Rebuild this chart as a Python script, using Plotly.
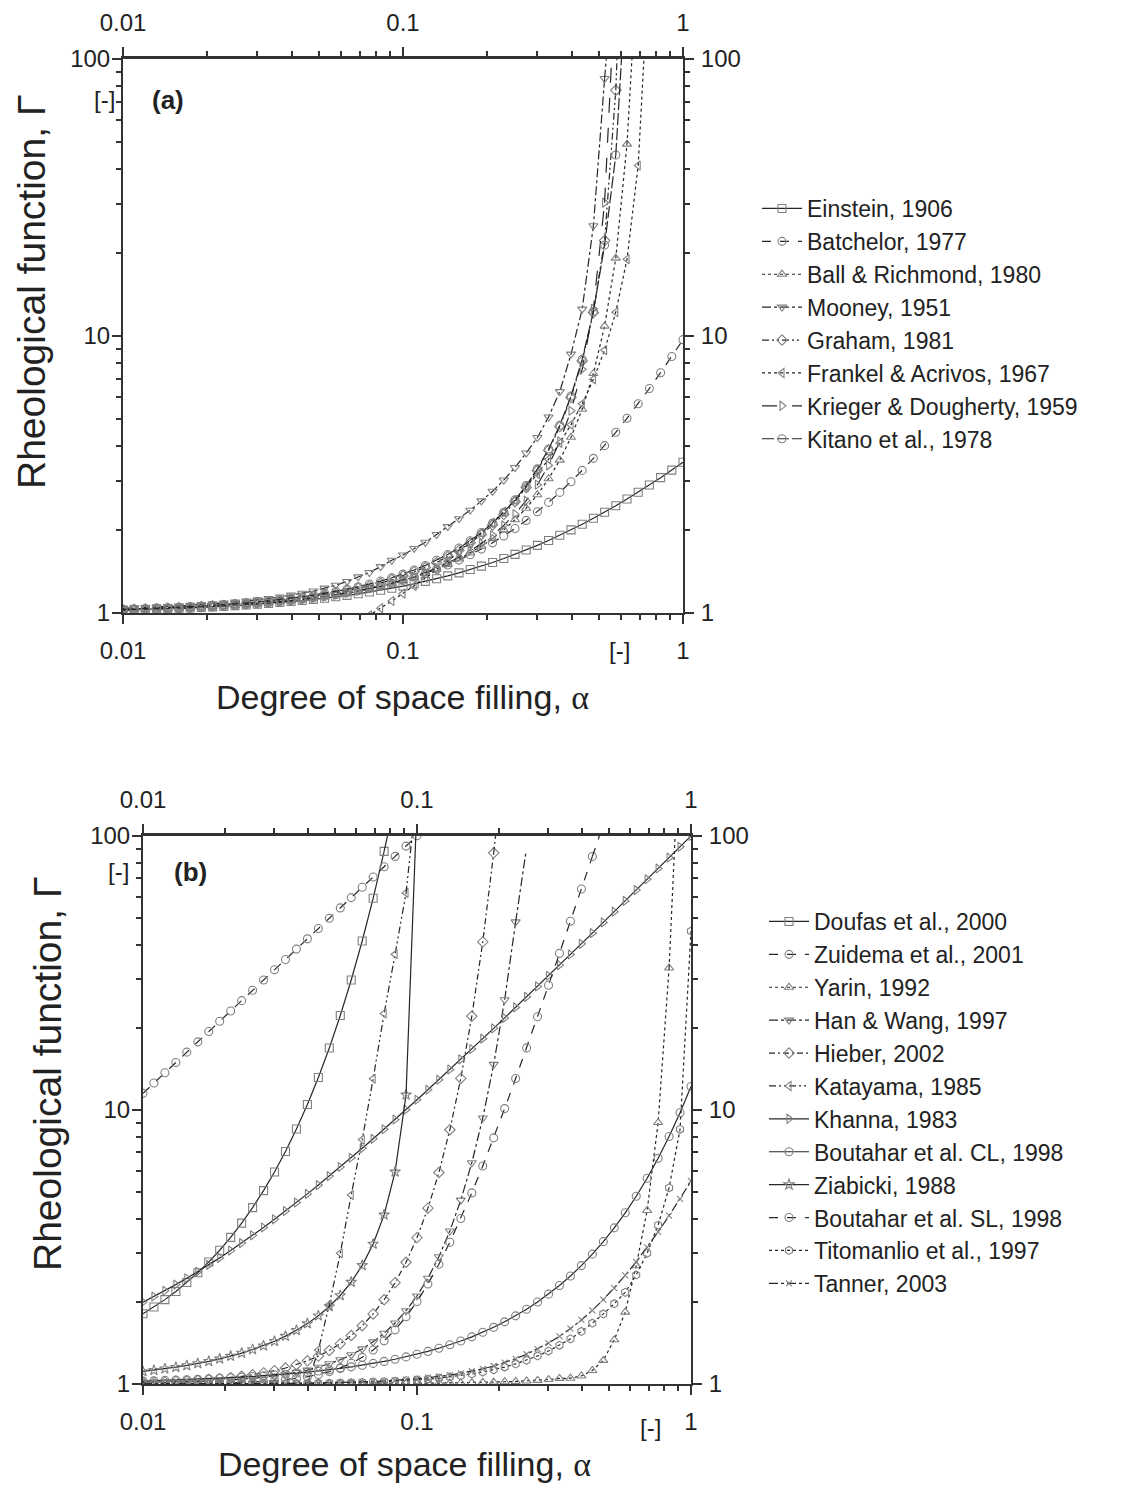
import plotly.graph_objects as go

# page is drawn with the browser's default 8px body margin; size the figure to fit the window
OFF = 8
W, H = 1124 - OFF, 1486 - OFF

# ---------------- data ----------------
alpha = [0.0100, 0.01096, 0.01202, 0.01318, 0.01445, 0.01585, 0.01738, 0.01905, 0.02089, 0.02291,
         0.02512, 0.02754, 0.03020, 0.03311, 0.03631, 0.03981, 0.04365, 0.04786, 0.05248, 0.05754,
         0.06310, 0.06918, 0.07586, 0.08318, 0.09120, 0.1000, 0.1096, 0.1202, 0.1318, 0.1445,
         0.1585, 0.1738, 0.1905, 0.2089, 0.2291, 0.2512, 0.2754, 0.3020, 0.3311, 0.3631,
         0.3981, 0.4365, 0.4786, 0.5248, 0.5754, 0.6310, 0.6918, 0.7586, 0.8318, 0.9120, 1.0]

x_ticks = [0.01, 0.1, 1]
x_ticktext = ["0.01", "0.1", "1"]
y_ticks = [1, 10, 100]
y_ticktext = ["1", "10", "100"]

# panel (a)
einstein = [1.025, 1.027, 1.030, 1.033, 1.036, 1.040, 1.043, 1.048, 1.052, 1.057, 1.063, 1.069, 1.076, 1.083,
            1.091, 1.100, 1.109, 1.120, 1.131, 1.144, 1.158, 1.173, 1.190, 1.208, 1.228, 1.250, 1.274, 1.301,
            1.330, 1.361, 1.396, 1.435, 1.476, 1.522, 1.573, 1.628, 1.689, 1.755, 1.828, 1.908, 1.995, 2.091,
            2.197, 2.312, 2.439, 2.578, 2.730, 2.897, 3.080, 3.280, 3.500]
batchelor = [1.026, 1.028, 1.031, 1.034, 1.037, 1.041, 1.045, 1.050, 1.055, 1.061, 1.067, 1.074, 1.081, 1.090,
             1.099, 1.109, 1.121, 1.134, 1.148, 1.164, 1.182, 1.203, 1.225, 1.251, 1.280, 1.312, 1.348, 1.390,
             1.437, 1.491, 1.552, 1.622, 1.701, 1.792, 1.898, 2.019, 2.159, 2.321, 2.508, 2.725, 2.978, 3.272,
             3.617, 4.020, 4.492, 5.047, 5.697, 6.465, 7.370, 8.437, 9.700]
ball_richmond = [1.026, 1.028, 1.031, 1.034, 1.037, 1.041, 1.045, 1.049, 1.054, 1.060, 1.066, 1.073, 1.080,
                 1.088, 1.098, 1.108, 1.119, 1.132, 1.146, 1.161, 1.179, 1.200, 1.222, 1.248, 1.276, 1.309,
                 1.347, 1.390, 1.440, 1.498, 1.566, 1.646, 1.741, 1.856, 1.997, 2.171, 2.390, 2.673, 3.052,
                 3.565, 4.31, 5.44, 7.32, 10.86, 19.1, 49.3]
mooney = [1.040, 1.043, 1.046, 1.050, 1.055, 1.060, 1.066, 1.072, 1.079, 1.087, 1.095, 1.105, 1.115, 1.127,
          1.142, 1.160, 1.178, 1.200, 1.230, 1.260, 1.300, 1.350, 1.400, 1.470, 1.550, 1.620, 1.710, 1.800,
          1.920, 2.050, 2.190, 2.350, 2.540, 2.750, 3.020, 3.350, 3.780, 4.300, 5.100, 6.300, 8.60, 12.5,
          25.0, 85.0]
graham = [1.027, 1.029, 1.033, 1.036, 1.040, 1.044, 1.048, 1.054, 1.059, 1.065, 1.072, 1.080, 1.088, 1.098,
          1.108, 1.119, 1.130, 1.147, 1.163, 1.182, 1.203, 1.230, 1.250, 1.280, 1.320, 1.359, 1.410, 1.460,
          1.520, 1.600, 1.685, 1.790, 1.920, 2.080, 2.270, 2.520, 2.840, 3.270, 3.870, 4.710, 6.00, 8.13,
          12.15, 22.1, 77.1]
frankel_acrivos = [None] * 20 + [0.878, 0.927, 0.981, 1.041, 1.105, 1.175, 1.252, 1.338, 1.433, 1.539, 1.657,
                                 1.790, 1.943, 2.116, 2.322, 2.557, 2.839, 3.178, 3.591, 4.111, 4.785, 5.693,
                                 6.973, 8.894, 12.18, 18.92, 41.25]
krieger_dougherty = [1.026, 1.028, 1.031, 1.034, 1.037, 1.041, 1.045, 1.050, 1.055, 1.060, 1.066, 1.073, 1.081,
                     1.089, 1.098, 1.108, 1.120, 1.133, 1.147, 1.163, 1.182, 1.202, 1.225, 1.252, 1.282, 1.316,
                     1.355, 1.400, 1.453, 1.515, 1.589, 1.676, 1.781, 1.911, 2.072, 2.277, 2.544, 2.905, 3.410,
                     4.163, 5.373, 7.578, 12.54, 30.3]
kitano = [1.031, 1.034, 1.037, 1.041, 1.045, 1.049, 1.054, 1.059, 1.065, 1.072, 1.080, 1.088, 1.097, 1.107,
          1.118, 1.130, 1.144, 1.160, 1.178, 1.197, 1.219, 1.244, 1.272, 1.304, 1.340, 1.382, 1.430, 1.485,
          1.550, 1.626, 1.716, 1.823, 1.953, 2.111, 2.311, 2.560, 2.884, 3.315, 3.908, 4.762, 6.072, 8.235,
          12.25, 21.29, 45.0]

# panel (b)
doufas = [1.804, 1.909, 2.032, 2.176, 2.346, 2.548, 2.788, 3.077, 3.430, 3.864, 4.402, 5.078, 5.941, 7.053,
          8.519, 10.47, 13.14, 16.84, 22.12, 29.81, 41.39, 59.24, 87.85]
zuidema = [11.50, 12.54, 13.68, 14.91, 16.26, 17.73, 19.33, 21.08, 22.99, 25.07, 27.34, 29.81, 32.51, 35.44,
           38.65, 42.14, 45.95, 50.11, 54.64, 59.58, 64.97, 70.84, 77.25, 84.23, 91.85, 100.2]
yarin = [1.002, 1.002, 1.002, 1.002, 1.002, 1.002, 1.002, 1.002, 1.002, 1.002, 1.002, 1.002, 1.002, 1.002,
         1.002, 1.002, 1.002, 1.002, 1.002, 1.002, 1.003, 1.003, 1.004, 1.004, 1.005, 1.006, 1.007, 1.008,
         1.009, 1.010, 1.012, 1.014, 1.016, 1.019, 1.022, 1.026, 1.031, 1.038, 1.048, 1.050, 1.070, 1.12,
         1.22, 1.45, 1.83, 2.7, 4.3, 9.0, 33.0]
han_wang = [1.007, 1.009, 1.011, 1.013, 1.016, 1.019, 1.023, 1.027, 1.033, 1.040, 1.048, 1.058, 1.070, 1.085,
            1.103, 1.124, 1.151, 1.185, 1.226, 1.278, 1.343, 1.425, 1.531, 1.669, 1.851, 2.096, 2.432, 2.913,
            3.617, 4.689, 6.418, 9.349, 14.67, 25.26, 48.6]
hieber = [1.012, 1.015, 1.018, 1.022, 1.026, 1.031, 1.038, 1.046, 1.055, 1.067, 1.081, 1.098, 1.119, 1.144,
          1.176, 1.215, 1.264, 1.325, 1.403, 1.503, 1.632, 1.802, 2.030, 2.342, 2.782, 3.421, 4.382, 5.913,
          8.471, 13.04, 21.98, 41.07, 86.8]
katayama = [None] * 15 + [1.0, 1.33, 1.95, 3.0, 4.9, 7.8, 13.0, 22.5, 37.0, 62.0]
khanna = [1.990, 2.085, 2.190, 2.305, 2.431, 2.569, 2.721, 2.886, 3.068, 3.268, 3.487, 3.726, 3.990, 4.278,
          4.595, 4.941, 5.321, 5.738, 6.196, 6.696, 7.247, 7.849, 8.510, 9.235, 10.03, 10.90, 11.85, 12.90,
          14.05, 15.31, 16.69, 18.21, 19.86, 21.68, 23.68, 25.87, 28.26, 30.90, 33.78, 36.95, 40.41, 44.21,
          48.38, 52.96, 57.96, 63.47, 69.49, 76.10, 83.35, 91.29, 100.0]
boutahar_cl = [1.025, 1.028, 1.031, 1.034, 1.037, 1.040, 1.044, 1.049, 1.054, 1.059, 1.065, 1.071, 1.078,
               1.086, 1.095, 1.105, 1.115, 1.127, 1.140, 1.155, 1.171, 1.189, 1.209, 1.231, 1.256, 1.284,
               1.315, 1.351, 1.390, 1.435, 1.486, 1.544, 1.610, 1.686, 1.773, 1.874, 1.991, 2.128, 2.288,
               2.479, 2.705, 2.978, 3.308, 3.714, 4.215, 4.843, 5.638, 6.662, 8.000, 9.777, 12.18]
ziabicki = [1.111, 1.123, 1.137, 1.152, 1.169, 1.188, 1.210, 1.235, 1.264, 1.297, 1.336, 1.380, 1.433, 1.495,
            1.570, 1.661, 1.775, 1.918, 2.104, 2.355, 2.710, 3.245, 4.143, 5.945, 11.36]
boutahar_sl = [1.001, 1.001, 1.002, 1.002, 1.003, 1.004, 1.005, 1.007, 1.009, 1.012, 1.016, 1.021, 1.028,
               1.036, 1.048, 1.063, 1.083, 1.110, 1.145, 1.191, 1.251, 1.331, 1.437, 1.576, 1.759, 2.000,
               2.317, 2.737, 3.290, 4.017, 4.982, 6.250, 7.913, 10.12, 13.03, 16.85, 21.89, 28.54, 37.30,
               48.87, 64.09, 84.17]
titomanlio = [1.000, 1.000, 1.001, 1.001, 1.001, 1.001, 1.001, 1.001, 1.002, 1.002, 1.002, 1.003, 1.003,
              1.004, 1.005, 1.006, 1.007, 1.008, 1.010, 1.012, 1.014, 1.017, 1.020, 1.024, 1.029, 1.035,
              1.042, 1.051, 1.061, 1.073, 1.088, 1.106, 1.127, 1.153, 1.184, 1.221, 1.266, 1.319, 1.384,
              1.461, 1.555, 1.667, 1.802, 1.964, 2.16, 2.5, 3.0, 3.8, 5.2, 8.5, 45.0]
tanner = [1.0005, 1.0005, 1.0007, 1.0008, 1.0009, 1.0011, 1.0014, 1.0016, 1.002, 1.0024, 1.0028, 1.0034,
          1.0041, 1.0049, 1.0059, 1.0071, 1.0086, 1.0103, 1.0124, 1.0149, 1.0179, 1.0215, 1.0259, 1.0311,
          1.0374, 1.045, 1.0541, 1.065, 1.0782, 1.094, 1.1131, 1.1359, 1.1633, 1.1964, 1.2362, 1.284,
          1.3413, 1.4104, 1.4933, 1.5933, 1.7132, 1.8574, 2.0308, 2.2394, 2.4899, 2.7917, 3.1537, 3.5896,
          4.1136, 4.7428, 5.5]

# where steep curves leave the frame / end (alpha, gamma)
curve_end = {
    "Ball & Richmond, 1980": (0.657, 100), "Mooney, 1951": (0.532, 100), "Graham, 1981": (0.581, 100),
    "Frankel & Acrivos, 1967": (0.725, 100), "Krieger & Dougherty, 1959": (0.556, 100),
    "Kitano et al., 1978": (0.603, 100),
    "Doufas et al., 2000": (0.078, 100), "Yarin, 1992": (0.875, 100), "Han & Wang, 1997": (0.25, 88),
    "Hieber, 2002": (0.1935, 100), "Katayama, 1985": (0.096, 100), "Ziabicki, 1988": (0.099, 100),
    "Boutahar et al. SL, 1998": (0.463, 100),
}

series_a = [("Einstein, 1906", einstein), ("Batchelor, 1977", batchelor),
            ("Ball & Richmond, 1980", ball_richmond), ("Mooney, 1951", mooney), ("Graham, 1981", graham),
            ("Frankel & Acrivos, 1967", frankel_acrivos), ("Krieger & Dougherty, 1959", krieger_dougherty),
            ("Kitano et al., 1978", kitano)]
series_b = [("Doufas et al., 2000", doufas), ("Zuidema et al., 2001", zuidema), ("Yarin, 1992", yarin),
            ("Han & Wang, 1997", han_wang), ("Hieber, 2002", hieber), ("Katayama, 1985", katayama),
            ("Khanna, 1983", khanna), ("Boutahar et al. CL, 1998", boutahar_cl), ("Ziabicki, 1988", ziabicki),
            ("Boutahar et al. SL, 1998", boutahar_sl), ("Titomanlio et al., 1997", titomanlio),
            ("Tanner, 2003", tanner)]

# ---------------- styles ----------------
DDOT = "7px,3px,2px,3px,2px,3px"
style_a = [("solid", "square-open"), ("dash", "circle-open"), ("dot", "triangle-up-open"),
           ("dashdot", "triangle-down-open"), (DDOT, "diamond-open"), ("3px,3px", "triangle-left-open"),
           ("longdash", "triangle-right-open"), ("12px,3px", "circle-open")]
style_b = [("solid", "square-open"), ("dash", "circle-open"), ("dot", "triangle-up-open"),
           ("dashdot", "triangle-down-open"), ("6px,3px,2px,3px", "diamond-open"), (DDOT, "triangle-left-open"),
           ("solid", "triangle-right-open"), ("solid", "circle-open"), ("solid", "star-open"),
           ("dash", "circle-open"), ("dot", "hexagon-open"), ("dashdot", "x-thin-open")]

LINE_C = "#262626"
MARK_C = "#808080"
AX_C = "#333333"
FONT = "Liberation Sans, Arial, sans-serif"
MS = 8

fig = go.Figure()


def add_series(name, ys, style, xa, ya, leg):
    xs = [a for a, v in zip(alpha, ys)]
    vs = list(ys)
    dash, sym = style
    fig.add_trace(go.Scatter(
        x=xs, y=vs, mode="lines+markers", name=name, legend=leg, xaxis=xa, yaxis=ya,
        line=dict(color=LINE_C, width=1.2, dash=dash),
        marker=dict(symbol=sym, size=MS if "x-thin" not in sym else 6, color=MARK_C,
                    line=dict(color=MARK_C, width=1.1)),
        hoverinfo="skip"))
    if name in curve_end:
        last_i = max(i for i, v in enumerate(vs) if v is not None)
        ex, ey = curve_end[name]
        fig.add_trace(go.Scatter(
            x=[xs[last_i], ex], y=[vs[last_i], ey], mode="lines", showlegend=False,
            xaxis=xa, yaxis=ya, line=dict(color=LINE_C, width=1.2, dash=dash), hoverinfo="skip"))


for (nm, ys), st in zip(series_a, style_a):
    add_series(nm, ys, st, "x", "y", "legend")
for (nm, ys), st in zip(series_b, style_b):
    add_series(nm, ys, st, "x2", "y2", "legend2")

# invisible traces to activate mirrored labelled axes
fig.add_trace(go.Scatter(x=[0.1], y=[10], xaxis="x3", yaxis="y3", mode="markers",
                         marker=dict(opacity=0), showlegend=False, hoverinfo="skip"))
fig.add_trace(go.Scatter(x=[0.1], y=[10], xaxis="x4", yaxis="y4", mode="markers",
                         marker=dict(opacity=0), showlegend=False, hoverinfo="skip"))


def px(x):
    """screen x (px) -> paper fraction"""
    return (x - OFF) / W


def py(y):
    """screen y (px) -> paper fraction"""
    return 1 - (y - OFF) / H


minor = dict(ticks="outside", ticklen=5, tickwidth=1.5, tickcolor=AX_C, dtick="D1", showgrid=False)
base = dict(type="log", tickmode="array", showline=True, linecolor=AX_C, linewidth=2, ticks="outside",
            ticklen=9, tickwidth=2, tickcolor=AX_C, showgrid=False, zeroline=False, minor=minor,
            automargin=False, tickfont=dict(size=24, family=FONT, color="#222"))
xcommon = dict(base, range=[-2, 0], tickvals=x_ticks, ticktext=x_ticktext, ticklabelstandoff=6)
yleft = dict(base, range=[0, 2], tickvals=y_ticks, ticktext=y_ticktext, ticklabelstandoff=-3)
yright = dict(base, range=[0, 2], tickvals=y_ticks, ticktext=y_ticktext, ticklabelstandoff=2)

dom_xa = [px(123), px(683)]
dom_ya = [py(613), py(59)]
dom_xb = [px(143), px(691)]
dom_yb = [py(1384), py(836)]

fig.update_layout(
    width=W, height=H, margin=dict(l=0, r=0, t=0, b=0, autoexpand=False),
    paper_bgcolor="white", plot_bgcolor="white",
    font=dict(family=FONT, size=24, color="#222"),
    xaxis=dict(xcommon, domain=dom_xa, anchor="y", side="bottom"),
    yaxis=dict(yleft, domain=dom_ya, anchor="x", side="left"),
    xaxis3=dict(xcommon, overlaying="x", anchor="y", side="top", linewidth=3),
    yaxis3=dict(yright, overlaying="y", anchor="x", side="right"),
    xaxis2=dict(xcommon, domain=dom_xb, anchor="y2", side="bottom"),
    yaxis2=dict(yleft, domain=dom_yb, anchor="x2", side="left"),
    xaxis4=dict(xcommon, overlaying="x2", anchor="y2", side="top", linewidth=3),
    yaxis4=dict(yright, overlaying="y2", anchor="x2", side="right"),
    legend=dict(x=px(757), y=py(187), xanchor="left", yanchor="top", bgcolor="rgba(0,0,0,0)",
                font=dict(size=23, family=FONT, color="#222"), itemwidth=40, tracegroupgap=0),
    legend2=dict(x=px(764), y=py(900), xanchor="left", yanchor="top", bgcolor="rgba(0,0,0,0)",
                 font=dict(size=23, family=FONT, color="#222"), itemwidth=40, tracegroupgap=0),
    showlegend=True,
)

ann = []


def note(text, x, y, size=26, bold=False, angle=0):
    t = f"<b>{text}</b>" if bold else text
    ann.append(dict(text=t, x=px(x), y=py(y), xref="paper", yref="paper", showarrow=False,
                    xanchor="center", yanchor="middle", textangle=angle,
                    font=dict(size=size, family=FONT, color="#222")))


note("(a)", 168, 100, 26, True)
note("(b)", 190, 872, 26, True)
note("[-]", 104, 100, 24)
note("[-]", 118, 871, 24)
note("[-]", 619, 650, 24)
note("[-]", 650, 1427, 24)
GREEK_A = "<span style='font-family:Liberation Serif'>α</span>"
note("Degree of space filling, " + GREEK_A, 402, 697, 34)
note("Degree of space filling, " + GREEK_A, 404, 1464, 34)
note("Rheological function, Γ", 31, 292, 39, angle=-90)
note("Rheological function, Γ", 47, 1074, 39, angle=-90)
fig.update_layout(annotations=ann)

fig.write_html("out.html")
